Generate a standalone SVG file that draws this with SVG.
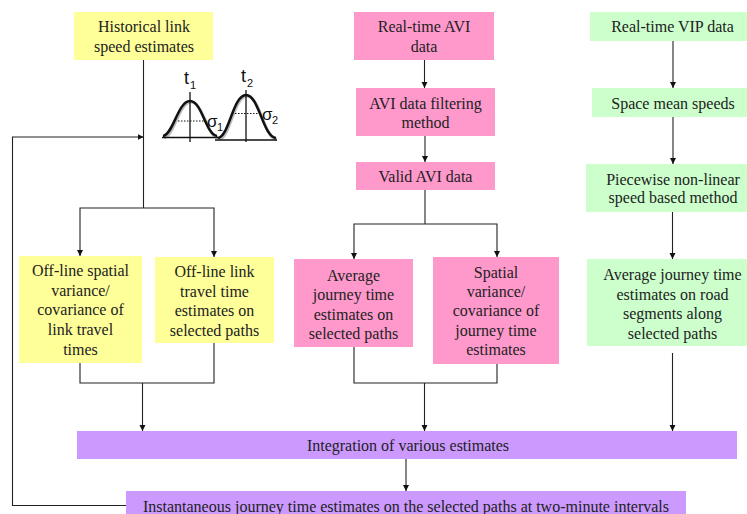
<svg xmlns="http://www.w3.org/2000/svg" width="747" height="514" viewBox="0 0 747 514">
<style>
.t{font-family:'Liberation Serif','Times New Roman',Times,serif;font-size:16px;fill:#222;text-anchor:middle}
.s{font-family:'Liberation Sans',Arial,sans-serif;fill:#111}
.c{fill:none;stroke:#222;stroke-width:1.1}
.y{fill:#FFFF99}.p{fill:#FF99CC}.g{fill:#CCFFCC}.v{fill:#CC99FF}
</style>
<defs>
<marker id="a" markerUnits="userSpaceOnUse" markerWidth="8" markerHeight="8" refX="6" refY="3" orient="auto">
<path d="M0,0 L6,3 L0,6 z" fill="#111"/>
</marker>
</defs>
<rect width="747" height="514" fill="#fff"/>
<g id="historical"><rect class="y" x="74" y="12" width="139" height="48"/>
<text class="t" x="144" y="32">Historical link</text><text class="t" x="144" y="52">speed estimates</text></g>
<g id="gauss">
<path d="M164,137.5 C174,136.5 179,102 191,102 C203,102 207,136.5 218,137.5" fill="none" stroke="#bbb" stroke-width="3"/>
<path d="M163,136 C173,135 178,101 190,101 C202,101 206,135 217,136" fill="none" stroke="#111" stroke-width="2.5"/>
<line x1="162" y1="137.5" x2="218" y2="137.5" stroke="#111" stroke-width="1.3"/>
<line x1="190" y1="92" x2="190" y2="142" stroke="#111" stroke-width="1.3"/>
<line x1="178" y1="121" x2="205" y2="121" stroke="#111" stroke-width="1" stroke-dasharray="1.5,1.5"/>
<path d="M219,139.5 C230,138.5 234,96 247,96 C260,96 264,138.5 277,139.5" fill="none" stroke="#bbb" stroke-width="3"/>
<path d="M218,138 C229,137 233,95 246,95 C259,95 263,137 276,138" fill="none" stroke="#111" stroke-width="2.5"/>
<line x1="215" y1="140" x2="277" y2="140" stroke="#111" stroke-width="1.3"/>
<line x1="246" y1="90" x2="246" y2="142" stroke="#111" stroke-width="1.3"/>
<line x1="232" y1="113.5" x2="261" y2="113.5" stroke="#111" stroke-width="1" stroke-dasharray="1.5,1.5"/>
<text class="s" x="184" y="84" font-size="18">t</text><text class="s" x="190" y="89" font-size="11">1</text>
<text class="s" x="241" y="82" font-size="18">t</text><text class="s" x="247" y="87" font-size="11">2</text>
<text class="s" x="207" y="127" font-size="17">σ</text><text class="s" x="217" y="131" font-size="11">1</text>
<text class="s" x="262" y="120" font-size="17">σ</text><text class="s" x="272" y="124" font-size="11">2</text>
</g>
<g id="offline-var"><rect class="y" x="19" y="256" width="123" height="107"/>
<text class="t" x="80.5" y="276">Off-line spatial</text><text class="t" x="80.5" y="295.5">variance/</text><text class="t" x="80.5" y="315">covariance of</text><text class="t" x="80.5" y="335">link travel</text><text class="t" x="80.5" y="354.5">times</text></g>
<g id="offline-link"><rect class="y" x="155" y="257" width="119" height="86"/>
<text class="t" x="214.5" y="276.5">Off-line link</text><text class="t" x="214.5" y="296.5">travel time</text><text class="t" x="214.5" y="316">estimates on</text><text class="t" x="214.5" y="335.5">selected paths</text></g>
<g id="avi-data"><rect class="p" x="354" y="12" width="140" height="48"/>
<text class="t" x="424" y="31.5">Real-time AVI</text><text class="t" x="424" y="51.5">data</text></g>
<g id="avi-filter"><rect class="p" x="356" y="88" width="139" height="48"/>
<text class="t" x="425.5" y="109">AVI data filtering</text><text class="t" x="425.5" y="128">method</text></g>
<g id="avi-valid"><rect class="p" x="356" y="162" width="139" height="28"/>
<text class="t" x="425.5" y="182">Valid AVI data</text></g>
<g id="avi-avg"><rect class="p" x="294" y="259" width="119" height="88"/>
<text class="t" x="353.5" y="280.5">Average</text><text class="t" x="353.5" y="300">journey time</text><text class="t" x="353.5" y="319.5">estimates on</text><text class="t" x="353.5" y="338.5">selected paths</text></g>
<g id="avi-var"><rect class="p" x="433" y="257" width="126" height="107"/>
<text class="t" x="496" y="277.5">Spatial</text><text class="t" x="496" y="297">variance/</text><text class="t" x="496" y="316">covariance of</text><text class="t" x="496" y="335.5">journey time</text><text class="t" x="496" y="355">estimates</text></g>
<g id="vip-data"><rect class="g" x="590" y="12" width="157" height="29"/>
<text class="t" x="672.5" y="31.5">Real-time VIP data</text></g>
<g id="vip-speeds"><rect class="g" x="592" y="88" width="155" height="29"/>
<text class="t" x="673" y="109">Space mean speeds</text></g>
<g id="vip-method"><rect class="g" x="586" y="164" width="161" height="48"/>
<text class="t" x="673" y="185">Piecewise non-linear</text><text class="t" x="673" y="203">speed based method</text></g>
<g id="vip-avg"><rect class="g" x="587" y="259" width="160" height="87"/>
<text class="t" x="672.5" y="280">Average journey time</text><text class="t" x="672.5" y="299.5">estimates on road</text><text class="t" x="672.5" y="319">segments along</text><text class="t" x="672.5" y="338.5">selected paths</text></g>
<g id="integration"><rect class="v" x="77" y="431" width="660" height="28"/>
<text class="t" x="408" y="450.5">Integration of various estimates</text></g>
<g id="instant"><rect class="v" x="126" y="491" width="560" height="23"/>
<text class="t" x="406" y="511.5">Instantaneous journey time estimates on the selected paths at two-minute intervals</text></g>
<g id="connectors">
<path class="c" d="M143.5,60 V208"/>
<path class="c" d="M143.5,208 H80 V256" marker-end="url(#a)"/>
<path class="c" d="M143.5,208 H214 V257" marker-end="url(#a)"/>
<path class="c" d="M80,363 V383 H214 V343"/>
<path class="c" d="M142.5,383 V431" marker-end="url(#a)"/>
<path class="c" d="M424.5,60 V88" marker-end="url(#a)"/>
<path class="c" d="M425,136 V162" marker-end="url(#a)"/>
<path class="c" d="M425,190 V224"/>
<path class="c" d="M425,224 H354 V259" marker-end="url(#a)"/>
<path class="c" d="M425,224 H497 V257" marker-end="url(#a)"/>
<path class="c" d="M354,347 V383 H497 V364"/>
<path class="c" d="M424.5,383 V431" marker-end="url(#a)"/>
<path class="c" d="M673,41 V88" marker-end="url(#a)"/>
<path class="c" d="M673,117 V164" marker-end="url(#a)"/>
<path class="c" d="M672.5,212 V259" marker-end="url(#a)"/>
<path class="c" d="M672.5,353 V431" marker-end="url(#a)"/>
<path class="c" d="M406,459 V491" marker-end="url(#a)"/>
<path class="c" d="M126,505.5 H12.5 V137 H143.5" marker-end="url(#a)"/>
</g>
</svg>
